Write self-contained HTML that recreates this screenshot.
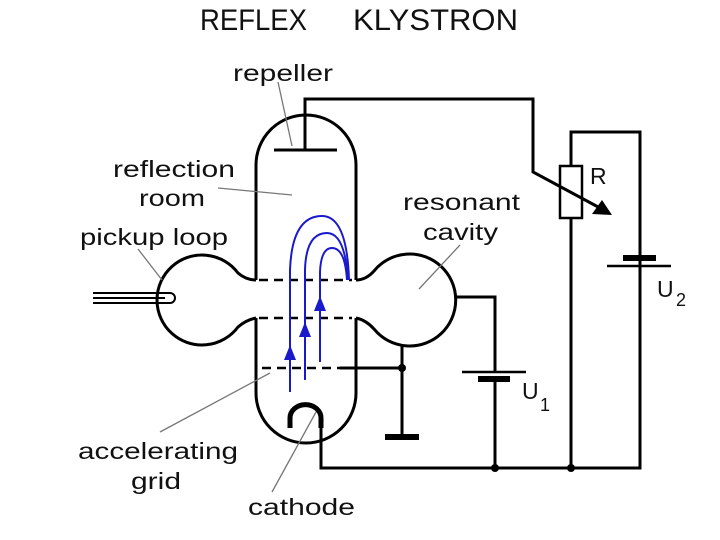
<!DOCTYPE html>
<html><head><meta charset="utf-8"><style>
body{margin:0;background:#fff;width:720px;height:540px;overflow:hidden}
svg{display:block}
text{font-family:"Liberation Sans",sans-serif;fill:#111}
</style></head><body>
<svg width="720" height="540" viewBox="0 0 720 540">
<text x="200" y="30" font-size="30" textLength="107" lengthAdjust="spacingAndGlyphs">REFLEX</text>
<text x="353" y="30" font-size="30" textLength="165" lengthAdjust="spacingAndGlyphs">KLYSTRON</text>
<g fill="none" stroke="#000" stroke-width="3">
<path d="M256,280 V165 A50,50 0 0 1 356,165 V280 M256,318 V393 A50,50 0 0 0 356,393 V318"/>
<path d="M256,280 Q246,280 238,273 A45,45 0 1 0 238,327 Q246,320 256,318"/>
<path d="M356,280 Q366,280 374,271 A46,46 0 1 1 374,329 Q366,320 356,318"/>
<path d="M274,150 H337 M305,150 V99 H533 V172 L600,208"/>
<path d="M571,166 V132 H640 V468 H321 V428"/>
<path d="M571,218 V468"/>
<rect x="560" y="166" width="22" height="52" stroke-width="2.5"/>
<path d="M456,297 H495 V372 M495,380 V468"/>
<path d="M462,372 H526" stroke-width="2.5"/>
<path d="M402,346 V436"/>
<path d="M340,368 H402"/>
<path d="M607,266 H671" stroke-width="2.5"/>
<path d="M290,428 V418 A15,13 0 0 1 321,418 V428" stroke-width="5"/>
<path d="M259,280 H352 M259,318 H352 M262,368 H340" stroke-dasharray="9,6" stroke-width="2.5"/>
<path d="M93,293 H165 M93,298 H165 M93,303 H165" stroke-width="2"/>
<path d="M160,293 H170 A5,5 0 0 1 170,303 H160" stroke-width="2"/>
</g>
<rect x="478" y="376" width="32" height="6" fill="#000"/>
<rect x="623" y="255" width="33" height="6" fill="#000"/>
<rect x="385" y="434" width="34" height="6" fill="#000"/>
<polygon points="612,215 592,214 602,200" fill="#000"/>
<circle cx="402" cy="368" r="4" fill="#000"/>
<circle cx="495" cy="468" r="4" fill="#000"/>
<circle cx="571" cy="468" r="4" fill="#000"/>
<g fill="none" stroke="#1a1acc" stroke-width="2">
<path d="M290,392 V270 Q292,216 322,216 Q347,216 349,280"/>
<path d="M305,380 V270 Q306,233 327,233 Q345,233 348,280"/>
<path d="M320,362 V272 Q321,248 332,248 Q345,248 347,280"/>
</g>
<g fill="#1a1acc">
<polygon points="290,345 284,360 296,360"/>
<polygon points="305,322 299,337 311,337"/>
<polygon points="320,296 314,311 326,311"/>
</g>
<g stroke="#777" stroke-width="1.3">
<line x1="278" y1="82" x2="292" y2="146"/>
<line x1="218" y1="188" x2="292" y2="195"/>
<line x1="138" y1="249" x2="162" y2="280"/>
<line x1="460" y1="245" x2="419" y2="289"/>
<line x1="160" y1="432" x2="270" y2="373"/>
<line x1="316" y1="412" x2="272" y2="492"/>
</g>
<g font-size="23">
<text x="233" y="81" textLength="100" lengthAdjust="spacingAndGlyphs">repeller</text>
<text x="113" y="177" textLength="122" lengthAdjust="spacingAndGlyphs">reflection</text>
<text x="139" y="206" textLength="66" lengthAdjust="spacingAndGlyphs">room</text>
<text x="80" y="245" textLength="148" lengthAdjust="spacingAndGlyphs">pickup loop</text>
<text x="403" y="210" textLength="117" lengthAdjust="spacingAndGlyphs">resonant</text>
<text x="423" y="240" textLength="75" lengthAdjust="spacingAndGlyphs">cavity</text>
<text x="590" y="184">R</text>
<text x="78" y="459" textLength="160" lengthAdjust="spacingAndGlyphs">accelerating</text>
<text x="131" y="489" textLength="50" lengthAdjust="spacingAndGlyphs">grid</text>
<text x="248" y="515" textLength="107" lengthAdjust="spacingAndGlyphs">cathode</text>
<text x="657" y="297">U</text><text x="676" y="306" font-size="18">2</text>
<text x="522" y="399">U</text><text x="540" y="411" font-size="18">1</text>
</g>
</svg>
</body></html>
